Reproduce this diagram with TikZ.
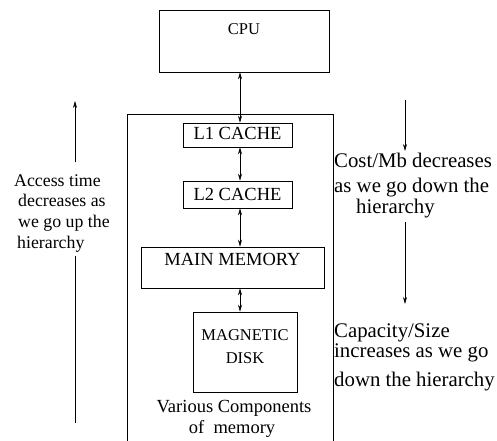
\documentclass[tikz,border=0pt]{standalone}
\usepackage{fontspec}
\setmainfont{Liberation Serif}
\usetikzlibrary{arrows.meta}

\tikzset{
  box/.style={draw, line width=0.6pt, rectangle, inner sep=0pt},
  boxtext/.style={anchor=base, inner sep=0pt, font=\fontsize{18.5}{20}\selectfont},
  smalltext/.style={anchor=base, inner sep=0pt, font=\fontsize{16.5}{18}\selectfont},
  lefttext/.style={anchor=base west, inner sep=0pt, font=\fontsize{17.8}{19}\selectfont},
  righttext/.style={anchor=base west, inner sep=0pt, font=\fontsize{20.8}{22}\selectfont},
  link/.style={line width=0.6pt, {Stealth[length=7pt,width=4pt]}-{Stealth[length=7pt,width=4pt]}},
  trend/.style={line width=0.6pt, -{Stealth[length=7pt,width=4pt]}},
  plain/.style={line width=0.6pt}
}

\begin{document}
\begin{tikzpicture}[x=1pt, y=-1pt]
  \path[use as bounding box] (0,0) rectangle (497,440);

  % processor and the memory hierarchy below it
  \node[box, minimum width=170pt, minimum height=62pt] (cpu) at (244,41) {};
  \node[smalltext] (cputext) at (244,34) {CPU};

  \draw[plain] (127,441) -- (127,114) -- (333,114) -- (333,441);

  \node[box, minimum width=109pt, minimum height=24pt] (l1) at (237.5,135) {};
  \node[boxtext] (l1text) at (237.5,139.5) {L1 CACHE};

  \node[box, minimum width=109pt, minimum height=27pt] (l2) at (237.5,194.5) {};
  \node[boxtext] (l2text) at (237.5,200) {L2 CACHE};

  \node[box, minimum width=183pt, minimum height=41pt] (mm) at (232.5,267.5) {};
  \node[boxtext] (mmtext) at (232.5,265.5) {MAIN MEMORY};

  \node[box, minimum width=104pt, minimum height=80pt] (disk) at (245,352) {};
  \node[smalltext] (disktext1) at (245,340.5) {MAGNETIC};
  \node[smalltext] (disktext2) at (245,363.5) {DISK};

  \node[boxtext] (cap1) at (234,412) {Various Components};
  \node[boxtext] (cap2) at (232,433) {of\ \ memory};

  % two-way links on one vertical line
  \coordinate (ax) at (240,0);
  \draw[link] (ax |- cpu.south) -- (ax |- l1.north);
  \draw[link] (ax |- l1.south) -- (ax |- l2.north);
  \draw[link] (ax |- l2.south) -- (ax |- mm.north);
  \draw[link] (ax |- mm.south) -- (ax |- disk.north);

  % access time, left
  \coordinate (at0) at (75,423);
  \coordinate (at1) at (75,256);
  \coordinate (at2) at (75,162);
  \coordinate (at3) at (75,101);
  \draw[plain] (at0) -- (at1);
  \draw[trend] (at2) -- (at3);
  \node[lefttext] (acc1) at (14,186) {Access time};
  \node[lefttext] (acc2) at (18,206) {decreases as};
  \node[lefttext] (acc3) at (18,227) {we go up the};
  \node[lefttext] (acc4) at (17,248) {hierarchy};

  % cost and capacity, right
  \coordinate (ct0) at (405,100);
  \coordinate (ct1) at (405,151);
  \coordinate (cp0) at (405,222);
  \coordinate (cp1) at (405,304);
  \draw[trend] (ct0) -- (ct1);
  \draw[trend] (cp0) -- (cp1);
  \node[righttext] (cost1) at (334,167) {Cost/Mb decreases};
  \node[righttext] (cost2) at (334,192) {as we go down the};
  \node[righttext] (cost3) at (356,213) {hierarchy};
  \node[righttext] (cap3) at (334,337) {Capacity/Size};
  \node[righttext] (cap4) at (334,357) {increases as we go};
  \node[righttext] (cap5) at (334,386) {down the hierarchy};
\end{tikzpicture}
\end{document}
